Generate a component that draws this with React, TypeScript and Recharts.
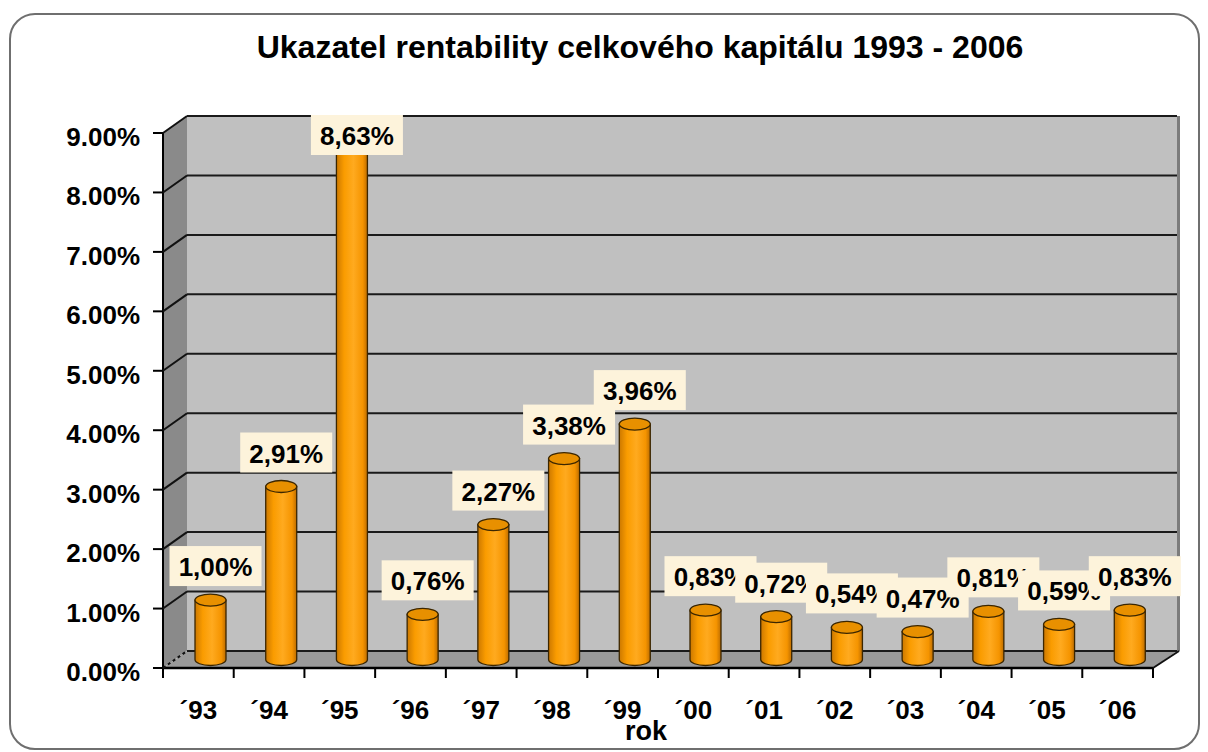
import React from 'react';
import { BarChart, Bar, XAxis, YAxis, CartesianGrid, LabelList } from 'recharts';

const YEARS = ['´93', '´94', '´95', '´96', '´97', '´98', '´99', '´00', '´01', '´02', '´03', '´04', '´05', '´06'];
const RENTABILITA = [1.0, 2.91, 8.63, 0.76, 2.27, 3.38, 3.96, 0.83, 0.72, 0.54, 0.47, 0.81, 0.59, 0.83];
const Y_TICKS = [0, 1, 2, 3, 4, 5, 6, 7, 8, 9];

const data = YEARS.map((rok, i) => ({ rok, value: RENTABILITA[i] }));

// 3D geometry: back wall = recharts plot area, front edge is shifted down-left
const W = 1208;
const H = 752;
const BACK_L = 187;
const BACK_R = 1177;
const BACK_T = 116;
const BACK_B = 651;
const DEPTH_X = 24;
const DEPTH_Y = 17;
const FRONT_L = BACK_L - DEPTH_X;
const FRONT_R = BACK_R - DEPTH_X;
const FONT = '"Liberation Sans", Arial, sans-serif';

const YTick = (props: any) => {
  const { y, payload, index } = props;
  const fy = y + DEPTH_Y;
  return (
    <g>
      <line x1={FRONT_L - 10} y1={fy} x2={FRONT_L} y2={fy} stroke="#000" strokeWidth={2} />
      <line
        x1={FRONT_L}
        y1={fy}
        x2={BACK_L}
        y2={y}
        stroke="#111"
        strokeWidth={2}
        strokeDasharray={index === 0 ? '3 3' : undefined}
      />
      <text x={FRONT_L - 23} y={fy + 4} textAnchor="end" dominantBaseline="central"
        fontFamily={FONT} fontWeight="bold" fontSize={26} fill="#000">
        {payload.value.toFixed(2)}%
      </text>
    </g>
  );
};

const XTick = (props: any) => {
  const { x, payload, index } = props;
  const slot = (BACK_R - BACK_L) / YEARS.length;
  const fx = x - DEPTH_X;
  const fy = BACK_B + DEPTH_Y;
  return (
    <g>
      <line x1={fx - slot / 2} y1={fy} x2={fx - slot / 2} y2={fy + 10} stroke="#000" strokeWidth={2} />
      {index === YEARS.length - 1 && (
        <line x1={fx + slot / 2} y1={fy} x2={fx + slot / 2} y2={fy + 10} stroke="#000" strokeWidth={2} />
      )}
      <text x={fx} y={fy + 42} textAnchor="middle" dominantBaseline="central"
        fontFamily={FONT} fontWeight="bold" fontSize={26} fill="#000">
        {payload.value}
      </text>
    </g>
  );
};

const DX = DEPTH_X / 2;
const DY = DEPTH_Y / 2;

const Cylinder = (props: any) => {
  const { x, y, width, height } = props;
  const cx = x + width / 2 - DX;
  const top = y + DY;
  const bottom = y + height + DY;
  const rx = width / 2;
  const ry = 6;
  const l = cx - rx;
  const r = cx + rx;
  return (
    <g>
      <path
        d={`M${l},${top} L${l},${bottom} A${rx},${ry} 0 0 0 ${r},${bottom} L${r},${top} Z`}
        fill="url(#cylBody)"
        stroke="#3b2600"
        strokeWidth={1.3}
      />
      <ellipse cx={cx} cy={top} rx={rx} ry={ry} fill="#E89000" stroke="#3b2600" strokeWidth={1.3} />
    </g>
  );
};

const ValueLabel = (props: any) => {
  const { x, y, width, value } = props;
  const cx = Number(x) + Number(width) / 2 - DX + 5;
  const cy = Math.max(Number(y) + DY - 34, 135);
  return (
    <g>
      <rect x={cx - 46} y={cy - 20} width={92} height={40} fill="#FDF3DB" />
      <text x={cx} y={cy + 1} textAnchor="middle" dominantBaseline="central"
        fontFamily={FONT} fontWeight="bold" fontSize={26} fill="#000">
        {Number(value).toFixed(2).replace('.', ',')}%
      </text>
    </g>
  );
};

const Backdrop = () => (
  <svg width={W} height={H} style={{ position: 'absolute', left: 0, top: 0 }}>
    <defs>
      <linearGradient id="cylBody" x1="0" y1="0" x2="1" y2="0">
        <stop offset="0%" stopColor="#CC7800" />
        <stop offset="25%" stopColor="#FA9C00" />
        <stop offset="55%" stopColor="#FFAA1F" />
        <stop offset="85%" stopColor="#F59400" />
        <stop offset="100%" stopColor="#BC6C00" />
      </linearGradient>
    </defs>
    <text x={640} y={58} textAnchor="middle" fontFamily={FONT} fontWeight="bold" fontSize={32} fill="#000">
      Ukazatel rentability celkového kapitálu 1993 - 2006
    </text>
    <polygon
      points={`${FRONT_L},${BACK_T + DEPTH_Y} ${BACK_L},${BACK_T} ${BACK_L},${BACK_B} ${FRONT_L},${BACK_B + DEPTH_Y}`}
      fill="#8A8A8A"
    />
    <polygon
      points={`${FRONT_L},${BACK_B + DEPTH_Y} ${BACK_L},${BACK_B} ${BACK_R},${BACK_B} ${FRONT_R},${BACK_B + DEPTH_Y}`}
      fill="#9A9A9A"
    />
    <rect x={BACK_R} y={BACK_T} width={3} height={BACK_B - BACK_T} fill="#7C7C7C" />
    <line x1={BACK_R + 2} y1={BACK_B} x2={FRONT_R} y2={BACK_B + DEPTH_Y} stroke="#111" strokeWidth={2} />
    <line x1={FRONT_L} y1={BACK_T + DEPTH_Y} x2={FRONT_L} y2={BACK_B + DEPTH_Y} stroke="#000" strokeWidth={2} />
    <line x1={FRONT_L} y1={BACK_B + DEPTH_Y} x2={FRONT_R} y2={BACK_B + DEPTH_Y} stroke="#000" strokeWidth={2.5} />
    <text x={646} y={740} textAnchor="middle" fontFamily={FONT} fontWeight="bold" fontSize={27} fill="#000">
      rok
    </text>
  </svg>
);

const App: React.FC = () => {
  return (
    <div style={{ position: 'fixed', left: 0, top: 0, width: W, height: H, overflow: 'hidden', background: '#fff' }}>
      <div
        style={{
          position: 'absolute',
          left: 9,
          top: 13,
          width: 1191,
          height: 737,
          border: '2px solid #6f6f6f',
          borderRadius: 26,
          boxSizing: 'border-box',
        }}
      />
      <Backdrop />
      <div style={{ position: 'absolute', left: 0, top: 0 }}>
        <BarChart
          width={W}
          height={H}
          data={data}
          margin={{ top: BACK_T, right: W - BACK_R, bottom: H - BACK_B - 30, left: BACK_L - 60 }}
        >
          <CartesianGrid vertical={false} fill="#C0C0C0" stroke="#1a1a1a" strokeWidth={2} fillOpacity={1} />
          <XAxis dataKey="rok" height={30} axisLine={false} tickLine={false} tick={<XTick />} interval={0} />
          <YAxis
            type="number"
            width={60}
            domain={[0, 9]}
            ticks={Y_TICKS}
            axisLine={false}
            tickLine={false}
            tick={<YTick />}
            interval={0}
          />
          <Bar dataKey="value" barSize={31} shape={<Cylinder />} isAnimationActive={false}>
            <LabelList dataKey="value" content={<ValueLabel />} />
          </Bar>
        </BarChart>
      </div>
    </div>
  );
};

export default App;
